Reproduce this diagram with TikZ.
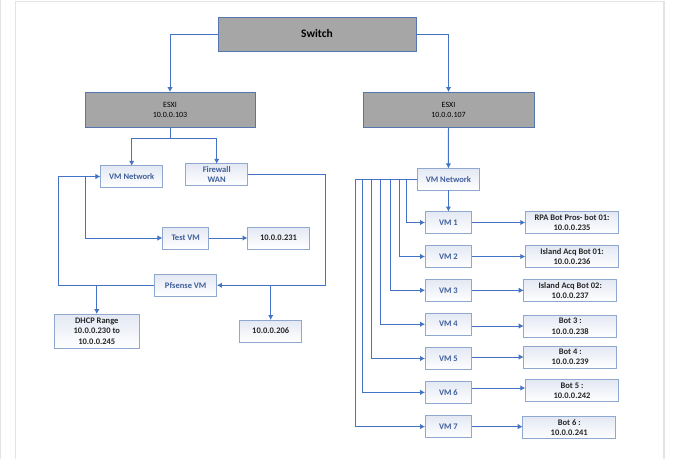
\documentclass[tikz,border=0pt]{standalone}
\usepackage{fontspec}
\setmainfont{Carlito}
\usetikzlibrary{arrows.meta}
\definecolor{lnblue}{HTML}{4472C4}
\definecolor{bdblue}{HTML}{8FA8CF}
\definecolor{txblue}{HTML}{3F5F9A}
\definecolor{grayfill}{HTML}{A6A6A6}
\definecolor{framegray}{HTML}{E4E4E4}
\definecolor{tint}{HTML}{E3E8F3}
\tikzset{
  every node/.style={inner sep=0pt,outer sep=0pt,align=center},
  graybox/.style={draw=lnblue!70!gray,fill=grayfill,line width=1pt,text=black},
  lightbox/.style={draw=bdblue,line width=1pt,left color=tint,right color=white,shading angle=0},
  vmlabel/.style={text=txblue,font=\fontsize{8.5}{10.5}\selectfont\bfseries},
  iplabel/.style={text=black!85,font=\fontsize{8.5}{10.5}\selectfont\bfseries},
  wire/.style={draw=lnblue,line width=1pt},
  arr/.style={wire,-{Latex[length=5pt,width=5.5pt]}}
}
\begin{document}
\begin{tikzpicture}[x=1pt,y=-1pt]
\useasboundingbox (0,0) rectangle (680,459);
\fill[white] (0,0) rectangle (680,459);
\draw[framegray,line width=1.5pt] (15.5,459) -- (15.5,1.5) -- (664,1.5) -- (664,459);
\draw[framegray,line width=1pt] (0.5,0) -- (0.5,459);
% top level
\node[graybox,minimum width=198pt,minimum height=34pt,font=\fontsize{11.5}{14}\selectfont\bfseries] (sw) at (317,34) {Switch};
\node[graybox,minimum width=170pt,minimum height=35pt,font=\fontsize{8}{10}\selectfont] (e1) at (170,109.5) {ESXI\\10.0.0.103};
\node[graybox,minimum width=171pt,minimum height=35pt,font=\fontsize{8}{10}\selectfont] (e2) at (448.5,109.5) {ESXI\\10.0.0.107};
% left side
\node[lightbox,vmlabel,minimum width=62.5pt,minimum height=21.5pt] (vl) at (131.7,176.5) {VM Network};
\node[lightbox,vmlabel,minimum width=62.5pt,minimum height=21.5pt] (fw) at (216.7,174.5) {Firewall\\WAN};
\node[lightbox,vmlabel,minimum width=46.5pt,minimum height=22pt] (tv) at (185.7,238) {Test VM};
\node[lightbox,iplabel,minimum width=62pt,minimum height=22pt] (t231) at (278.5,238) {10.0.0.231};
\node[lightbox,vmlabel,minimum width=62.5pt,minimum height=21.5pt] (pf) at (185.7,285.3) {Pfsense VM};
\node[lightbox,iplabel,minimum width=85.5pt,minimum height=34pt] (dh) at (96.8,331) {DHCP Range\\10.0.0.230 to\\10.0.0.245};
\node[lightbox,iplabel,minimum width=62.5pt,minimum height=22pt] (t206) at (270.7,331) {10.0.0.206};
% right side
\node[lightbox,vmlabel,minimum width=62pt,minimum height=21.7pt] (vr) at (448.4,179.2) {VM Network};
\foreach \n/\y in {1/222.5,2/256.5,3/290.3,4/324.2,5/358.5,6/392.4,7/426.6}
  \node[lightbox,vmlabel,minimum width=46.7pt,minimum height=22pt] (vm\n) at (448.4,\y) {VM \n};
\node[lightbox,iplabel,minimum width=93.4pt,minimum height=21.7pt] (b1) at (572,222.5) {RPA Bot Pros- bot 01:\\10.0.0.235};
\node[lightbox,iplabel,minimum width=93.4pt,minimum height=21.7pt] (b2) at (572,256.5) {Island Acq Bot 01:\\10.0.0.236};
\node[lightbox,iplabel,minimum width=93pt,minimum height=22pt] (b3) at (570.2,290.3) {Island Acq Bot 02:\\10.0.0.237};
\node[lightbox,iplabel,minimum width=93pt,minimum height=22pt] (b4) at (570.2,326) {Bot 3 :\\10.0.0.238};
\node[lightbox,iplabel,minimum width=93pt,minimum height=22pt] (b5) at (570.2,357) {Bot 4 :\\10.0.0.239};
\node[lightbox,iplabel,minimum width=93.4pt,minimum height=21.7pt] (b6) at (572,390.8) {Bot 5 :\\10.0.0.242};
\node[lightbox,iplabel,minimum width=93pt,minimum height=21.8pt] (b7) at (569.2,427.6) {Bot 6 :\\10.0.0.241};
% helper coordinates
\coordinate (ring) at (58,285.3);
\coordinate (inner) at (85,176.5);
\coordinate (fwx) at (325,285.3);
\coordinate (o6) at (471.7,388);
\coordinate (o7) at (471.7,426.6);
\coordinate (t1) at (406,179.2);
\coordinate (t2) at (399,179.2);
\coordinate (t3) at (390.3,179.2);
\coordinate (t4) at (380.7,179.2);
\coordinate (t5) at (371,179.2);
\coordinate (t6) at (362,179.2);
\coordinate (t7) at (355.7,179.2);
% top connectors
\draw[arr] (sw.west) -| (e1.north);
\draw[arr] (sw.east) -| (e2.north);
\draw[arr] (e1.south) -- ++(0,11) -| (vl.north);
\draw[arr] (e1.south) -- ++(0,11) -| (fw.north);
\draw[arr] (e2.south) -- (vr.north);
% left connectors
\draw[arr] (pf.west) -- (ring) |- (vl.west);
\draw[arr] (inner) |- (tv.west);
\draw[arr] (tv.east) -- (t231.west);
\draw[arr] (fw.east) -| (fwx) -- (pf.east);
\draw[arr] (t206.north |- pf.east) -- (t206.north);
\draw[arr] (dh.north |- pf.west) -- (dh.north);
% right connectors
\draw[arr] (vr.south) -- (vm1.north);
\draw[wire] (vr.west) -- (t7);
\foreach \n in {1,...,7}
  \draw[arr] (t\n) |- (vm\n.west);
\draw[arr] (vm1.east) -- (b1.west);
\draw[arr] (vm2.east) -- (b2.west);
\draw[arr] (vm3.east) -- (b3.west);
\draw[arr] (vm4.east |- b4.west) -- (b4.west);
\draw[arr] (vm5.east |- b5.west) -- (b5.west);
\draw[arr] (o6) -- (b6.west |- o6);
\draw[arr] (o7) -- (b7.west |- o7);
\end{tikzpicture}
\end{document}
